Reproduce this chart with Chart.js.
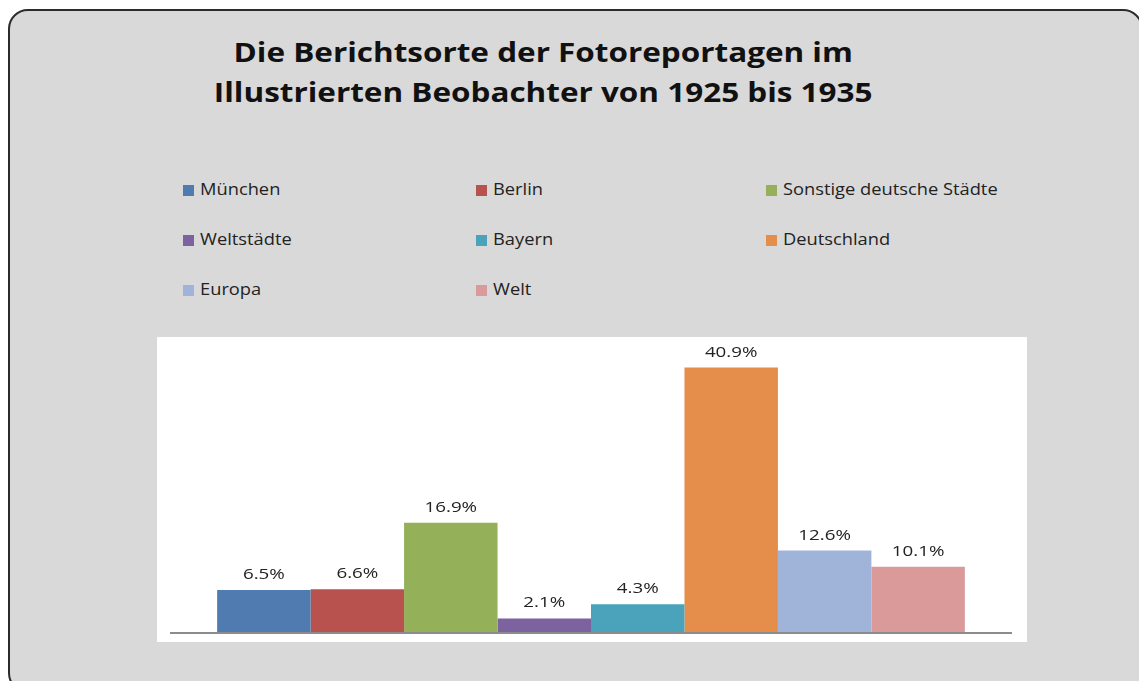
<!DOCTYPE html>
<html>
<head>
<meta charset="utf-8">
<script src="https://cdn.jsdelivr.net/npm/chart.js@4"></script>
<style>
  html, body { margin: 0; padding: 0; width: 1139px; height: 681px; overflow: hidden; background: #fff; }
  #frame {
    position: absolute; left: 8px; top: 9px; width: 1131px; height: 680px;
    background: #d9d9d9; border: 2px solid #2b2b2b; border-radius: 20px;
  }
  #title {
    position: absolute; left: 0; top: 32px; width: 1086px; text-align: center;
    font-family: "Open Sans", sans-serif; font-weight: bold; font-size: 26px;
    line-height: 40px; color: #111; transform: scaleX(1.21); transform-origin: 542px 0;
  }
  #legend {
    position: absolute; left: 183px; top: 178px;
    display: grid; grid-template-columns: 293px 290px 300px; grid-auto-rows: 50px;
    font-family: "Open Sans", sans-serif; font-size: 15.5px; color: #222;
  }
  #legend span.box { display: inline-block; width: 11px; height: 11px; margin-right: 6px; vertical-align: -1px; }
  #legend span.txt { display: inline-block; transform: scaleX(1.18); transform-origin: 0 0; }
  #wrap { position: absolute; left: 0; top: 0; width: 1139px; height: 681px; }
</style>
</head>
<body>
<div id="frame"></div>
<div id="title">Die Berichtsorte der Fotoreportagen im<br>Illustrierten Beobachter von 1925 bis 1935</div>
<div id="legend"></div>
<div id="wrap"><canvas id="chart" width="1139" height="681"></canvas></div>

<script>
// ========================== DATA ==========================
const places = ["München", "Berlin", "Sonstige deutsche Städte", "Weltstädte", "Bayern", "Deutschland", "Europa", "Welt"];
const shares = [6.5, 6.6, 16.9, 2.1, 4.3, 40.9, 12.6, 10.1];
const colors = ["#4f7bb0", "#b8524f", "#94b058", "#7c629f", "#4aa3bb", "#e58d4a", "#a0b4da", "#d99a99"];

// ========================== LEGEND ==========================
const legend = document.getElementById("legend");
places.forEach((p, i) => {
  legend.innerHTML += `<div><span class="box" style="background:${colors[i]}"></span><span class="txt">${p}</span></div>`;
});

// ========================== PLUGINS ==========================
// white plot background + axis line
const plotBg = {
  id: "plotBg",
  beforeDraw(chart) {
    const { ctx, chartArea: a } = chart;
    ctx.save();
    ctx.fillStyle = "#fff";
    ctx.fillRect(a.left - 13, a.top - 4, a.right - a.left + 28, a.bottom - a.top + 14);
    ctx.restore();
  },
  afterDatasetsDraw(chart) {
    const { ctx, chartArea: a } = chart;
    ctx.save();
    ctx.strokeStyle = "#8c8c8c";
    ctx.lineWidth = 2;
    ctx.beginPath();
    ctx.moveTo(a.left, a.bottom + 1);
    ctx.lineTo(a.right, a.bottom + 1);
    ctx.stroke();
    ctx.restore();
  }
};

// value labels above bars (stretched a bit, like the original)
const valueLabels = {
  id: "valueLabels",
  afterDatasetsDraw(chart) {
    const { ctx } = chart;
    chart.data.datasets.forEach((ds, i) => {
      const bar = chart.getDatasetMeta(i).data[0];
      ctx.save();
      ctx.translate(bar.x, bar.y - 11);
      ctx.scale(1.25, 1);
      ctx.font = "15px 'Open Sans', sans-serif";
      ctx.fillStyle = "#222";
      ctx.textAlign = "center";
      ctx.fillText(ds.data[0].toFixed(1) + "%", 0, 0);
      ctx.restore();
    });
  }
};

// ========================== CHART ==========================
new Chart(document.getElementById("chart"), {
  type: "bar",
  data: {
    labels: [""],
    datasets: places.map((p, i) => ({
      label: p,
      data: [shares[i]],
      backgroundColor: colors[i],
      borderWidth: 0
    }))
  },
  options: {
    responsive: false,
    animation: false,
    layout: { padding: { left: 170, right: 127, top: 341, bottom: 49 } },
    datasets: { bar: { categoryPercentage: 0.888, barPercentage: 1.0 } },
    scales: {
      x: { display: false },
      y: { display: false, min: 0, max: 45 }
    },
    plugins: {
      legend: { display: false },
      title: { display: false },
      tooltip: { enabled: false }
    }
  },
  plugins: [plotBg, valueLabels]
});
</script>
</body>
</html>
